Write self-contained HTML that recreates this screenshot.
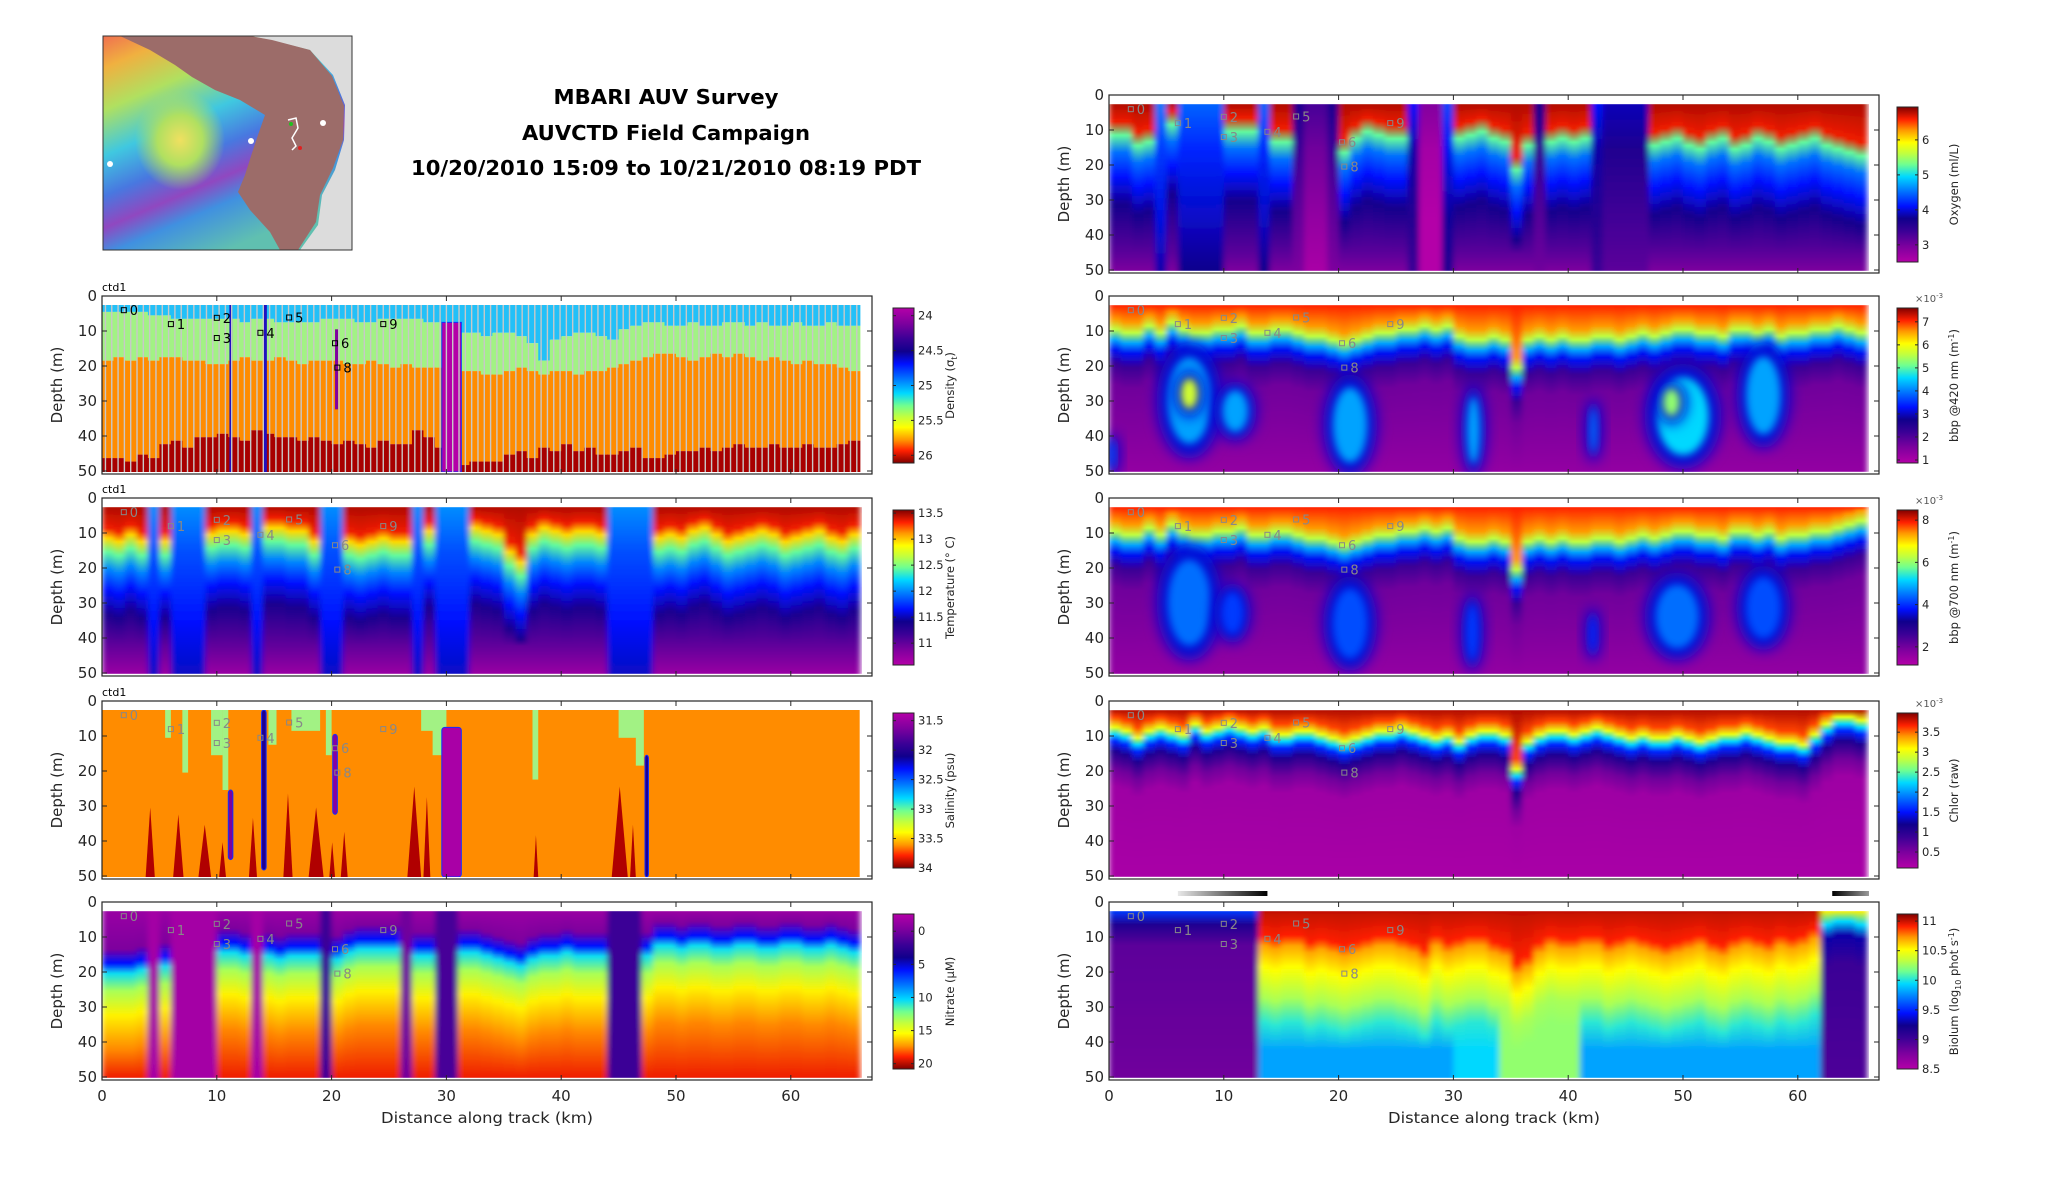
<!DOCTYPE html>
<html><head><meta charset="utf-8">
<style>
html,body{margin:0;padding:0;background:#fff;}
svg{display:block;font-family:"DejaVu Sans","Liberation Sans",sans-serif;}
</style></head>
<body>
<svg id="fig" width="2052" height="1188" viewBox="0 0 2052 1188" xmlns="http://www.w3.org/2000/svg">
<defs id="defs">
<filter id="blur3" x="-50%" y="-50%" width="200%" height="200%"><feGaussianBlur stdDeviation="4"/></filter>
<filter id="blur6" x="-50%" y="-50%" width="200%" height="200%"><feGaussianBlur stdDeviation="7"/></filter>
<filter id="hblur" x="-2%" y="0%" width="104%" height="100%"><feGaussianBlur stdDeviation="3 0.5"/></filter>
<linearGradient id="mapRain" x1="0" y1="0" x2="0.5" y2="1">
<stop offset="0" stop-color="#f07050"/><stop offset="0.12" stop-color="#f0b040"/><stop offset="0.28" stop-color="#b0e060"/>
<stop offset="0.45" stop-color="#40c8e0"/><stop offset="0.6" stop-color="#4878e0"/><stop offset="0.72" stop-color="#9048c0"/>
<stop offset="0.82" stop-color="#4090e0"/><stop offset="1" stop-color="#60c0b0"/></linearGradient>
<radialGradient id="mapCore" cx="0.5" cy="0.5" r="0.5"><stop offset="0" stop-color="#f0e060"/><stop offset="0.5" stop-color="#b0e060"/><stop offset="1" stop-color="#b0e060" stop-opacity="0"/></radialGradient>
</defs>
<g id="mapg">
<rect x="103" y="36" width="249" height="214" fill="url(#mapRain)"/>
<ellipse cx="180" cy="140" rx="45" ry="50" fill="url(#mapCore)"/>
<polygon points="352,36 352,250 300,250 318,225 322,195 335,170 344,140 345,105 333,75 310,50 270,40 250,36" fill="#dcdcdc"/>
<polygon points="120,36 250,36 272,40 310,50 332,76 344,106 343,140 333,168 320,195 316,222 298,250 280,250 270,232 250,210 238,192 245,175 252,153 258,135 265,115 240,100 215,90 192,77 175,65 150,50" fill="#9c6c69"/>
<polyline points="288,120 296,118 298,128 292,138 296,146 292,150" fill="none" stroke="#fff" stroke-width="1.5"/>
<circle cx="291" cy="124" r="2" fill="#20c020"/><circle cx="300" cy="148" r="2" fill="#e02020"/>
<circle cx="323" cy="123" r="3" fill="#fff"/><circle cx="251" cy="141" r="3" fill="#fff"/><circle cx="110" cy="164" r="3" fill="#fff"/>
<rect x="103" y="36" width="249" height="214" fill="none" stroke="#333" stroke-width="1"/>
</g>
<g font-weight="bold" font-size="20" fill="#000" text-anchor="middle">
<text x="666" y="104" textLength="225" lengthAdjust="spacingAndGlyphs">MBARI AUV Survey</text>
<text x="666" y="140" textLength="288" lengthAdjust="spacingAndGlyphs">AUVCTD Field Campaign</text>
<text x="666" y="175" textLength="510" lengthAdjust="spacingAndGlyphs">10/20/2010 15:09 to 10/21/2010 08:19 PDT</text>
</g>
<g id="panels"></g>
</svg>
<script>
// ---------- data (per-km columns, km 0..65) ----------
const kmTicks = [0,10,20,30,40,50,60];
const depthTicks = [0,10,20,30,40,50];
const markerKm = [1.9,6.0,10.0,10.0,13.8,16.3,20.3,20.5,24.5];
const markerDepth = [3.5,7.5,5.7,11.5,10,5.6,13,20,7.5];
const markerLabel = ['0','1','2','3','4','5','6','8','9'];

const denA = [4,4,4,4,5,5,6,6,6,6, 6,6,7,6,6,7,7,7,7,6, 6,6,7,7,6,6,6,6,7,7, 9,10,10,11,10,10,11,13,18,12, 11,10,10,11,12,9,8,7,7,8, 8,7,8,8,7,7,8,7,8,8, 7,8,8,7,8,8];
const denB = [18,17,18,17,18,17,17,18,18,19, 19,18,17,18,18,17,18,19,18,18, 18,19,19,18,19,20,19,20,20,20, 20,21,21,22,22,21,20,21,22,21, 21,22,21,21,20,19,18,17,16,16, 17,18,17,16,17,16,17,18,17,18, 19,18,19,19,20,21];
const denC = [46,46,47,45,46,42,41,43,40,40, 39,40,41,38,39,40,40,41,40,41, 42,41,42,43,41,42,42,38,40,43, 48,48,47,47,47,45,44,46,43,44, 42,44,43,45,45,44,43,46,46,45, 44,44,43,44,43,42,43,43,42,43, 43,42,43,43,42,41];

const tempL = [11,12,10,12,12,12,10,10,10,10, 9,9,10,9,8,8,9,9,12,12, 12,12,13,12,11,12,12,10,9,9, 9,9,8,9,10,15,18,10,8,9, 10,9,9,10,10,10,10,10,11,10, 11,9,8,10,12,11,10,9,10,12, 11,10,9,11,12,10];
const tempCold = [0,0,0,0,1,0,1,1,1,0, 0,0,0,1,0,0,0,0,0,1, 1,0,0,0,0,0,0,1,0,1, 1,1,0,0,0,0,0,0,0,0, 0,0,0,0,1,1,1,1,0,0, 0,0,0,0,0,0,0,0,0,0, 0,0,0,0,0,0];

const salGreen = [[5.5,6,2,10],[7,7.5,2,20],[9.5,10.5,2,15],[10.5,11,2,25],[14.5,15.2,2,12],[16.5,19,2,8],[19.5,20,2,15],[27.8,29.5,2,8],[28.8,30,2,15],[37.5,38,2,22],[45,47,2,10],[46.5,47.2,2,18]];
const salRed = [[3.8,4.6,30],[6.2,7.1,32],[8.4,9.5,35],[10.2,10.8,40],[12.8,13.5,33],[15.8,16.6,26],[18,19.3,30],[19.8,20.3,40],[20.8,21.4,37],[26.6,27.8,24],[28,28.6,27],[37.6,38,38],[44.4,45.8,24],[46,46.5,35]];
const salPurple = [[29.6,31.3,7,50,0.02],[11.0,11.4,25,45,0.1],[13.9,14.3,2,48,0.25],[20.1,20.5,9,32,0.08],[47.3,47.6,15,50,0.25]];

const nitL = [20,20,20,19,15,18,15,15,15,15, 14,14,15,15,15,16,15,15,15,15, 16,14,13,13,13,13,15,15,15,15, 15,14,14,15,16,17,18,16,15,15, 14,15,15,15,15,15,15,15,12,12, 13,12,12,13,13,12,12,13,13,12, 12,13,13,12,13,14];
const nitCol = [null,null,null,null,0.03,null,0.03,0.03,0.03,0.03, null,null,null,0.03,null,null,null,null,null,0.2, null,null,null,null,null,null,0.12,null,null,0.18, 0.18,null,null,null,null,null,null,null,null,null, null,null,null,null,0.2,0.2,0.2,null,null,null, null,null,null,null,null,null,null,null,null,null, null,null,null,null,null,null];

const oxyL = [11,11,14,13,12,8,10,10,10,10, 10,10,10,10,13,13,12,12,12,12, 16,12,10,11,12,12,12,12,12,12, 12,11,10,12,13,21,14,13,13,12, 13,12,12,12,12,12,12,14,13,12, 14,15,13,12,15,14,12,13,15,14, 13,12,14,15,16,17];
const oxyCol = [null,null,null,null,0.4,null,0.38,0.38,0.38,0.38, null,null,null,0.38,null,null,0.2,0.12,0.12,0.2, null,null,null,null,null,null,0.3,0.03,0.03,0.35, null,null,null,null,null,null,null,0.22,null,null, null,null,0.3,0.25,0.25,0.25,0.25,null,null,null, null,null,null,null,null,null,null,null,null,null, null,null,null,null,null,null];

const b420L = [9,10,10,8,10,7,9,10,10,9, 9,8,10,10,9,9,10,11,11,12, 13,12,11,10,10,9,9,8,9,8, 11,12,12,11,12,20,12,11,12,11, 12,12,11,11,12,11,10,11,10,9, 9,10,10,11,9,9,10,9,11,10, 10,9,9,8,9,10];
const b420Blobs = [[4.5,9.5,14,45,0.5],[6,8,22,33,0.72],[9.5,12.5,25,40,0.5],[19,23,23,50,0.5],[31,32.5,26,50,0.5],[41.8,42.6,30,46,0.45],[47,53,20,48,0.55],[48,50,25,35,0.66],[55,59,14,42,0.5],[0,0.6,40,50,0.42]];
const b700L = [9,10,10,8,10,7,9,10,10,9, 9,8,10,10,9,9,10,11,11,12, 13,12,11,10,10,9,9,8,9,8, 11,12,12,11,12,20,12,11,12,11, 12,12,11,11,12,11,10,11,10,9, 9,10,10,11,9,9,10,9,11,10, 10,9,9,8,7,6];
const b700Blobs = [[4.5,9.5,14,45,0.45],[9.5,12,25,40,0.4],[19,23,23,48,0.42],[31,32.3,28,48,0.4],[41.8,42.5,32,45,0.38],[47,52,22,45,0.45],[55,59,20,42,0.42]];
const chlL = [8,9,11,9,8,9,10,7,9,8, 7,8,9,8,10,10,9,9,10,11, 12,11,10,9,9,8,9,10,11,10, 12,10,9,9,10,20,12,10,9,9, 10,9,8,9,10,11,10,11,11,10, 11,12,11,10,10,9,10,11,12,12, 13,10,7,5,5,6];
const bioL = [0,0,0,0,0,0,0,0,0,0, 0,0,0,12,13,12,12,14,13,14, 15,14,13,12,12,13,14,16,12,14, 13,12,12,14,15,20,18,14,12,13, 13,12,12,14,13,12,13,14,15,14, 13,12,14,15,13,12,13,14,12,13, 12,10,4,3,3,4];
const bioDeep = [0.12,0.12,0.12,0.12,0.12,0.12,0.12,0.12,0.12,0.12, 0.12,0.12,0.12,0.5,0.5,0.5,0.5,0.5,0.5,0.5, 0.5,0.5,0.5,0.5,0.5,0.5,0.5,0.5,0.5,0.5, 0.55,0.55,0.55,0.55,0.66,0.66,0.66,0.66,0.66,0.66, 0.66,0.5,0.5,0.5,0.5,0.5,0.5,0.5,0.5,0.5, 0.5,0.5,0.5,0.5,0.5,0.5,0.5,0.5,0.5,0.5, 0.5,0.5,0.17,0.17,0.17,0.17];

// colorbar ticks
const cbDensityTicks = [24,24.5,25,25.5,26];
const cbTempTicks = [13.5,13,12.5,12,11.5,11];
const cbSalTicks = [31.5,32,32.5,33,33.5,34];
const cbNitTicks = [0,5,10,15,20];
const cbOxyTicks = [6,5,4,3];
const cb420Ticks = [7,6,5,4,3,2,1];
const cb700Ticks = [8,6,4,2];
const cbChlTicks = [3.5,3,2.5,2,1.5,1,0.5];
const cbBioTicks = [11,10.5,10,9.5,9,8.5];

// ---------- helpers ----------
const NS='http://www.w3.org/2000/svg';
const JET=[[0,'#b400a8'],[0.1,'#7d009e'],[0.2,'#3a0096'],[0.28,'#10008c'],[0.36,'#0010ff'],[0.46,'#0078ff'],[0.55,'#00d8ff'],[0.63,'#70ff90'],[0.7,'#c0ff40'],[0.77,'#ffff00'],[0.85,'#ff9800'],[0.92,'#ff2000'],[1,'#800000']];
function hx(c){return [parseInt(c.substr(1,2),16),parseInt(c.substr(3,2),16),parseInt(c.substr(5,2),16)];}
function cmap(t){t=Math.max(0,Math.min(1,t));for(let i=1;i<JET.length;i++){if(t<=JET[i][0]){const a=JET[i-1],b=JET[i];const f=(t-a[0])/(b[0]-a[0]);const A=hx(a[1]),B=hx(b[1]);return 'rgb('+A.map((v,j)=>Math.round(v+(B[j]-v)*f)).join(',')+')';}}return JET[JET.length-1][1];}
function mk(tag,at,parent){const e=document.createElementNS(NS,tag);for(const k in at)e.setAttribute(k,at[k]);parent.appendChild(e);return e;}
const defs=document.getElementById('defs');
const root=document.getElementById('panels');
const PX=11.48, PH=178;
function xK(x0,k){return x0+PX*k;}
function yD(top,d){return top+2+3.48*d;}
let gid=0;
function gradCol(stops){
  const id='g'+(gid++);
  const lg=mk('linearGradient',{id:id,x1:0,y1:0,x2:0,y2:1},defs);
  let prev=-1;
  stops.forEach(s=>{let d=Math.max(2,Math.min(50,s[0]));if(d<=prev)return;prev=d;mk('stop',{offset:((d-2)/48).toFixed(4),'stop-color':cmap(s[1])},lg);});
  return id;
}
function colRect(g,x0,top,k0,k1,stops){
  const id=gradCol(stops);
  const r=mk('rect',{x:xK(x0,k0).toFixed(2),y:yD(top,2).toFixed(2),width:(PX*(k1-k0)+0.7).toFixed(2),height:(yD(top,50)-yD(top,2)).toFixed(2),fill:'url(#'+id+')'},g);
  
  
  return r;
}
function uniformStops(t){return [[2,Math.min(1,t+0.06)],[15,t],[35,Math.max(0,t-0.06)],[50,Math.max(0,t-0.1)]];}

function axes(g,x0,top,showX,title){
  const w=770;
  kmTicks.forEach(k=>{const x=xK(x0,k);
    mk('line',{x1:x,y1:top+PH,x2:x,y2:top+PH-5,stroke:'#262626'},g);
    mk('line',{x1:x,y1:top,x2:x,y2:top+5,stroke:'#262626'},g);
    if(showX){const t=mk('text',{x:x,y:top+PH+21,'font-size':15,'text-anchor':'middle',fill:'#262626'},g);t.textContent=k;
      
      }
  });
  depthTicks.forEach(d=>{const yy=top+3.5*d;
    mk('line',{x1:x0,y1:yy,x2:x0+5,y2:yy,stroke:'#262626'},g);
    mk('line',{x1:x0+w,y1:yy,x2:x0+w-5,y2:yy,stroke:'#262626'},g);
    const t=mk('text',{x:x0-5,y:yy+5,'font-size':15,'text-anchor':'end',fill:'#262626'},g);t.textContent=d;
    
    
  });
  const box=mk('rect',{x:x0,y:top,width:w,height:PH,fill:'none',stroke:'#262626','stroke-width':1.2},g);
  
  
  const yl=mk('text',{x:0,y:0,'font-size':15,'text-anchor':'middle',fill:'#262626',transform:'translate('+(x0-40)+','+(top+89)+') rotate(-90)'},g);yl.textContent='Depth (m)';
  
  
  if(showX){const xl=mk('text',{x:x0+385,y:top+PH+43,'font-size':15,'text-anchor':'middle',fill:'#262626',textLength:212,lengthAdjust:'spacingAndGlyphs'},g);xl.textContent='Distance along track (km)';
    
    }
  if(title){const tt=mk('text',{x:x0,y:top-5,'font-size':11,fill:'#000'},g);tt.textContent=title;
    
    }
}
function markers(g,x0,top,color){
  markerKm.forEach((k,i)=>{const x=xK(x0,k),y=yD(top,markerDepth[i]);
    const s=mk('rect',{x:x-2.5,y:y-2.5,width:5,height:5,fill:'none',stroke:color,'stroke-width':1},g);
    
    
    const t=mk('text',{x:x+6,y:y+5,'font-size':13,fill:color},g);t.textContent=markerLabel[i];
    
    
  });
}
function colorbar(g,cx,top,vTop,vBot,ticks,magTop,label,exp){
  const cy=top+12,ch=155,cw=21;
  const id='cb'+(gid++);
  const lg=mk('linearGradient',{id:id,x1:0,y1:0,x2:0,y2:1},defs);
  JET.forEach(s=>{mk('stop',{offset:magTop?s[0]:1-s[0],'stop-color':s[1]},lg);});
  if(!magTop){Array.from(lg.children).reverse().forEach(c=>lg.appendChild(c));}
  const r=mk('rect',{x:cx,y:cy,width:cw,height:ch,fill:'url(#'+id+')',stroke:'#262626','stroke-width':1},g);
  
  
  ticks.forEach(v=>{const y=cy+(v-vTop)/(vBot-vTop)*ch;
    mk('line',{x1:cx,y1:y,x2:cx+3,y2:y,stroke:'#262626'},g);
    mk('line',{x1:cx+cw,y1:y,x2:cx+cw-3,y2:y,stroke:'#262626'},g);
    const t=mk('text',{x:cx+cw+4,y:y+4,'font-size':11.5,fill:'#262626'},g);t.textContent=v;
    
    
  });
  const lt=mk('text',{x:0,y:0,'font-size':11.5,'text-anchor':'middle',fill:'#262626',transform:'translate('+(cx+cw+40)+','+(cy+ch/2)+') rotate(-90)'},g);
  lt.innerHTML=label;
  
  
  if(exp){const e=mk('text',{x:cx+18,y:cy-6,'font-size':10,fill:'#555'},g);e.innerHTML='×10<tspan dy="-4" font-size="7">-3</tspan>';
    
    }
}
function blobs(g,x0,top,list){
  list.forEach(b=>{const cx=xK(x0,(b[0]+b[1])/2),cy=yD(top,(b[2]+b[3])/2),rx=PX*(b[1]-b[0])/2,ry=3.48*(b[3]-b[2])/2;
    const h=mk('ellipse',{cx:cx,cy:cy,rx:rx+4,ry:ry+4,fill:cmap(0.33),filter:'url(#blur6)'},g);
    
    
    const e=mk('ellipse',{cx:cx,cy:cy,rx:rx*0.75,ry:ry*0.8,fill:cmap(b[4]),filter:'url(#blur3)'},g);
    
    
  });
}
function clip(g,x0,top){const id='cl'+(gid++);const cp=mk('clipPath',{id:id},defs);mk('rect',{x:x0,y:yD(top,2),width:xK(x0,66.2)-x0,height:yD(top,50)-yD(top,2)},cp);g.setAttribute('clip-path','url(#'+id+')');}
function inner(d){const h=mk('g',{filter:'url(#hblur)'},d);return h;}
function panel(name){const g=mk('g',{},root);return g;}

const LX=102, RX=1109;
const LT=[296,498,701,902], RT=[95,296,498,701,902];

// ---------- density ----------
(function(){
  const g=panel('density-panel'); const top=LT[0];
  const d=mk('g',{},g); clip(d,LX,top);
  for(let k=0;k<66;k++){
    const x=xK(LX,k), w=PX+0.7;
    [[2,denA[k],'#22c0f8'],[denA[k],denB[k],'#a2f284'],[denB[k],denC[k],'#ff8c00'],[denC[k],50,'#a80000']].forEach(s=>{
      const r=mk('rect',{x:x,y:yD(top,s[0]),width:w,height:yD(top,s[1])-yD(top,s[0]),fill:s[2]},d);
      
      
    });
  }
  const m=mk('rect',{x:xK(LX,29.6),y:yD(top,7),width:PX*1.7,height:yD(top,50)-yD(top,7),fill:'#b400a8',stroke:'#1030ff','stroke-width':1},d);
  
  
  [[11.1,2,50,'#2010c0'],[14.1,2,50,'#2010c0'],[20.3,9,32,'#8000a0']].forEach(s=>{
    const r=mk('rect',{x:xK(LX,s[0]),y:yD(top,s[1]),width:3,height:yD(top,s[2])-yD(top,s[1]),fill:s[3]},d);
    
    
  });
  for(let k=0.3;k<66;k+=0.55){const l=mk('line',{x1:xK(LX,k),y1:yD(top,2),x2:xK(LX,k),y2:yD(top,50),stroke:'#c8c8c8','stroke-width':1.4},d);
    
    }
  markers(g,LX,top,'#000');
  axes(g,LX,top,false,'ctd1');
  colorbar(g,893,top,23.89,26.11,cbDensityTicks,true,'Density (σ<tspan dy="3" font-size="8">t</tspan><tspan dy="-3">)</tspan>',false);
})();

// ---------- temperature ----------
(function(){
  const g=panel('temperature-panel'); const top=LT[1];
  const d=mk('g',{},g); clip(d,LX,top); const h=inner(d);
  for(let k=0;k<66;k++){
    const L=tempL[k];
    const st=tempCold[k]?uniformStops(0.42):[[2,0.97],[L-3,0.93],[L,0.8],[L+4,0.62],[L+9,0.47],[L+15,0.36],[L+22,0.26],[42,0.14],[50,0.05]];
    colRect(h,LX,top,k,k+1,st);
  }
  markers(g,LX,top,'#888');
  axes(g,LX,top,false,'ctd1');
  colorbar(g,893,top,13.56,10.58,cbTempTicks,false,'Temperature (° C)',false);
})();

// ---------- salinity ----------
(function(){
  const g=panel('salinity-panel'); const top=LT[2];
  const d=mk('g',{},g); clip(d,LX,top);
  const b=mk('rect',{x:LX,y:yD(top,2),width:PX*66,height:yD(top,50)-yD(top,2),fill:'#ff8c00'},d);
  
  
  salGreen.forEach(s=>{const r=mk('rect',{x:xK(LX,s[0]),y:yD(top,s[2]),width:PX*(s[1]-s[0]),height:yD(top,s[3])-yD(top,s[2]),fill:'#a2f284'},d);
    
    });
  salRed.forEach(s=>{const p=mk('polygon',{points:xK(LX,s[0])+','+yD(top,50)+' '+xK(LX,(s[0]+s[1])/2)+','+yD(top,s[2])+' '+xK(LX,s[1])+','+yD(top,50),fill:'#b00000'},d);
    
    });
  salPurple.forEach(s=>{const r=mk('rect',{x:xK(LX,s[0]),y:yD(top,s[2]),width:PX*(s[1]-s[0]),height:yD(top,s[3])-yD(top,s[2]),fill:cmap(s[4]),stroke:'#1030ff','stroke-width':1,rx:3},d);
    
    });
  markers(g,LX,top,'#888');
  axes(g,LX,top,false,'ctd1');
  colorbar(g,893,top,31.37,34.0,cbSalTicks,true,'Salinity (psu)',false);
})();

// ---------- nitrate ----------
(function(){
  const g=panel('nitrate-panel'); const top=LT[3];
  const d=mk('g',{},g); clip(d,LX,top); const h=inner(d);
  for(let k=0;k<66;k++){
    const L=nitL[k];
    const st=nitCol[k]!==null?[[2,nitCol[k]],[50,nitCol[k]]]:[[2,0.05],[L-7,0.1],[L-3,0.36],[L,0.56],[L+5,0.68],[L+12,0.78],[L+22,0.86],[50,0.93]];
    colRect(h,LX,top,k,k+1,st);
  }
  markers(g,LX,top,'#888');
  axes(g,LX,top,true,null);
  colorbar(g,893,top,-2.6,20.8,cbNitTicks,true,'Nitrate (μM)',false);
})();

// ---------- oxygen ----------
(function(){
  const g=panel('oxygen-panel'); const top=RT[0];
  const d=mk('g',{},g); clip(d,RX,top); const h=inner(d);
  for(let k=0;k<66;k++){
    const L=oxyL[k];
    const st=oxyCol[k]!==null?uniformStops(oxyCol[k]):[[2,0.97],[L-4,0.93],[L,0.62],[L+5,0.45],[L+12,0.36],[L+20,0.27],[45,0.15],[50,0.1]];
    colRect(h,RX,top,k,k+1,st);
  }
  markers(g,RX,top,'#888');
  axes(g,RX,top,false,null);
  colorbar(g,1897,top,6.94,2.51,cbOxyTicks,false,'Oxygen (ml/L)',false);
})();

// ---------- bbp420 ----------
(function(){
  const g=panel('bbp420-panel'); const top=RT[1];
  const d=mk('g',{},g); clip(d,RX,top); const h=inner(d);
  for(let k=0;k<66;k++){const L=b420L[k];
    colRect(h,RX,top,k,k+1,[[2,0.92],[L-3,0.85],[L,0.7],[L+3,0.5],[L+6,0.35],[L+10,0.2],[L+16,0.12],[50,0.06]]);}
  blobs(d,RX,top,b420Blobs);
  markers(g,RX,top,'#888');
  axes(g,RX,top,false,null);
  colorbar(g,1897,top,7.6,0.87,cb420Ticks,false,'bbp @420 nm (m<tspan dy="-4" font-size="8">-1</tspan><tspan dy="4">)</tspan>',true);
})();

// ---------- bbp700 ----------
(function(){
  const g=panel('bbp700-panel'); const top=RT[2];
  const d=mk('g',{},g); clip(d,RX,top); const h=inner(d);
  for(let k=0;k<66;k++){const L=b700L[k];
    colRect(h,RX,top,k,k+1,[[2,0.92],[L-3,0.85],[L,0.7],[L+3,0.5],[L+6,0.35],[L+10,0.2],[L+16,0.12],[50,0.06]]);}
  blobs(d,RX,top,b700Blobs);
  markers(g,RX,top,'#888');
  axes(g,RX,top,false,null);
  colorbar(g,1897,top,8.48,1.14,cb700Ticks,false,'bbp @700 nm (m<tspan dy="-4" font-size="8">-1</tspan><tspan dy="4">)</tspan>',true);
})();

// ---------- chlorophyll ----------
(function(){
  const g=panel('chlorophyll-panel'); const top=RT[3];
  const d=mk('g',{},g); clip(d,RX,top); const h=inner(d);
  for(let k=0;k<66;k++){const L=chlL[k];
    colRect(h,RX,top,k,k+1,[[2,0.97],[L-4,0.9],[L-1,0.75],[L+1,0.55],[L+3,0.38],[L+6,0.25],[L+11,0.12],[L+16,0.04],[50,0.02]]);}
  markers(g,RX,top,'#888');
  axes(g,RX,top,false,null);
  colorbar(g,1897,top,3.98,0.1,cbChlTicks,false,'Chlor (raw)',true);
})();

// ---------- bioluminescence ----------
(function(){
  const g=panel('biolum-panel'); const top=RT[4];
  const d=mk('g',{},g); clip(d,RX,top); const h=inner(d);
  for(let k=0;k<66;k++){const L=bioL[k],dp=bioDeep[k];let st;
    if(L===0) st=[[2,0.4],[6,0.25],[12,0.15],[50,dp]];
    else if(L<5) st=[[2,0.78],[L+2,0.55],[L+6,0.3],[L+14,0.2],[50,dp]];
    else st=[[2,0.96],[L-3,0.92],[L,0.84],[L+6,0.77],[L+15,0.68],[L+22,Math.max(dp,0.58)],[42,dp],[50,dp]];
    colRect(h,RX,top,k,k+1,st);}
  markers(g,RX,top,'#888');
  axes(g,RX,top,true,null);
  colorbar(g,1897,top,11.12,8.5,cbBioTicks,false,'Biolum (log<tspan dy="3" font-size="8">10</tspan><tspan dy="-3"> phot s</tspan><tspan dy="-4" font-size="8">-1</tspan><tspan dy="4">)</tspan>',false);
  const lg=mk('linearGradient',{id:'lbar',x1:0,y1:0,x2:1,y2:0},defs);
  mk('stop',{offset:0,'stop-color':'#e8e8e8'},lg);mk('stop',{offset:1,'stop-color':'#000'},lg);
  const r1=mk('rect',{x:xK(RX,6),y:top-11,width:PX*7.8,height:5,fill:'url(#lbar)'},g);
  
  
  const lg2=mk('linearGradient',{id:'lbar2',x1:0,y1:0,x2:1,y2:0},defs);
  mk('stop',{offset:0,'stop-color':'#000'},lg2);mk('stop',{offset:1,'stop-color':'#999'},lg2);
  const r2=mk('rect',{x:xK(RX,63),y:top-11,width:PX*3.2,height:5,fill:'url(#lbar2)'},g);
  
  
})();
</script>
</body></html>
